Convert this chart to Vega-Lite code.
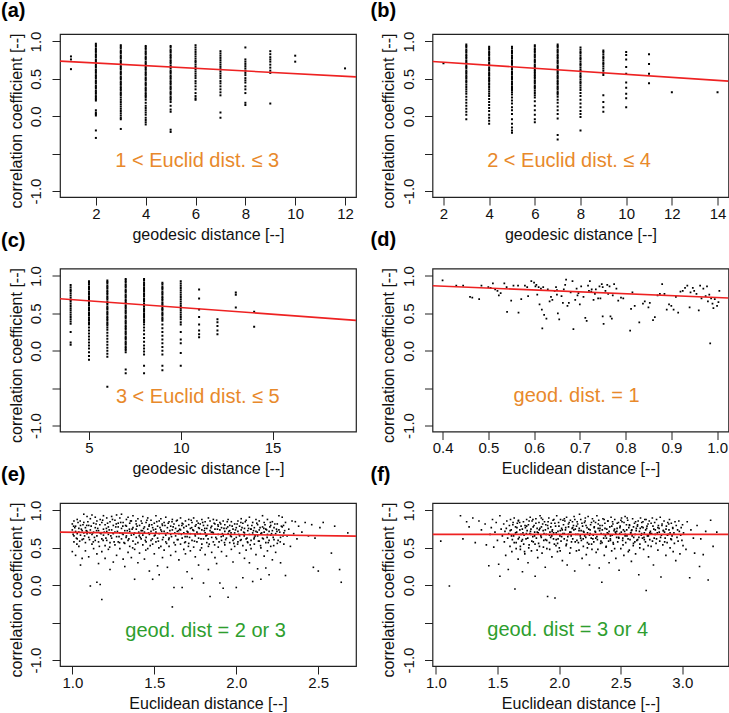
{
"$schema":"https://vega.github.io/schema/vega-lite/v6.json",
"background":"white",
"padding":{"left":0,"top":0,"right":0,"bottom":0},
"autosize":{"type":"pad"},
"config":{
"font":"Liberation Sans",
"view":{"stroke":"#222","strokeWidth":1.2},
"axis":{"grid":false,"domain":false,"tickColor":"#222","tickSize":8,"labelFontSize":15,"titleFontSize":16,"labelColor":"#111","titleColor":"#111","titleFontWeight":"normal","labelFont":"Liberation Sans","titleFont":"Liberation Sans"},
"axisX":{"labelBaseline":"alphabetic","labelPadding":13,"titleBaseline":"alphabetic","titleY":42,"labelFlush":false,"labelOverlap":false},
"axisY":{"labelAngle":-90,"labelAlign":"center","labelBaseline":"alphabetic","labelPadding":11.4,"titleX":-39,"titleY":86.5,"titleBaseline":"alphabetic","titleAlign":"center","labelFlush":false,"labelOverlap":false},
"title":{"anchor":"start","frame":"group","fontSize":20,"fontWeight":"bold","color":"#000","baseline":"alphabetic","font":"Liberation Sans"}
},
"datasets":{
"a":[{"x":1,"y":0.8},{"x":1,"y":0.76},{"x":1,"y":0.63},
{"x":2,"y":0.97},{"x":2,"y":0.95},{"x":2,"y":0.93},{"x":2,"y":0.9},{"x":2,"y":0.88},{"x":2,"y":0.86},{"x":2,"y":0.83},{"x":2,"y":0.81},{"x":2,"y":0.79},{"x":2,"y":0.76},{"x":2,"y":0.74},{"x":2,"y":0.72},{"x":2,"y":0.69},{"x":2,"y":0.67},{"x":2,"y":0.65},{"x":2,"y":0.62},{"x":2,"y":0.6},{"x":2,"y":0.58},{"x":2,"y":0.55},{"x":2,"y":0.53},{"x":2,"y":0.51},{"x":2,"y":0.48},{"x":2,"y":0.46},{"x":2,"y":0.44},{"x":2,"y":0.41},{"x":2,"y":0.39},{"x":2,"y":0.37},{"x":2,"y":0.34},{"x":2,"y":0.32},{"x":2,"y":0.3},{"x":2,"y":0.27},{"x":2,"y":0.25},{"x":2,"y":0.23},{"x":2,"y":0.21},{"x":2,"y":0.08},{"x":2,"y":0.05},{"x":2,"y":0.03},{"x":2,"y":0.01},{"x":2,"y":-0.19},{"x":2,"y":-0.29},
{"x":3,"y":0.95},{"x":3,"y":0.93},{"x":3,"y":0.91},{"x":3,"y":0.88},{"x":3,"y":0.86},{"x":3,"y":0.84},{"x":3,"y":0.81},{"x":3,"y":0.79},{"x":3,"y":0.77},{"x":3,"y":0.74},{"x":3,"y":0.72},{"x":3,"y":0.7},{"x":3,"y":0.67},{"x":3,"y":0.65},{"x":3,"y":0.63},{"x":3,"y":0.6},{"x":3,"y":0.58},{"x":3,"y":0.56},{"x":3,"y":0.53},{"x":3,"y":0.51},{"x":3,"y":0.49},{"x":3,"y":0.46},{"x":3,"y":0.44},{"x":3,"y":0.42},{"x":3,"y":0.39},{"x":3,"y":0.37},{"x":3,"y":0.35},{"x":3,"y":0.32},{"x":3,"y":0.3},{"x":3,"y":0.28},{"x":3,"y":0.25},{"x":3,"y":0.22},{"x":3,"y":0.19},{"x":3,"y":0.16},{"x":3,"y":0.13},{"x":3,"y":0.1},{"x":3,"y":0.07},{"x":3,"y":0.04},{"x":3,"y":0.01},{"x":3,"y":-0.02},{"x":3,"y":-0.04},{"x":3,"y":-0.17},
{"x":4,"y":0.94},{"x":4,"y":0.92},{"x":4,"y":0.9},{"x":4,"y":0.87},{"x":4,"y":0.85},{"x":4,"y":0.83},{"x":4,"y":0.8},{"x":4,"y":0.78},{"x":4,"y":0.76},{"x":4,"y":0.73},{"x":4,"y":0.71},{"x":4,"y":0.69},{"x":4,"y":0.66},{"x":4,"y":0.64},{"x":4,"y":0.62},{"x":4,"y":0.59},{"x":4,"y":0.57},{"x":4,"y":0.55},{"x":4,"y":0.52},{"x":4,"y":0.5},{"x":4,"y":0.48},{"x":4,"y":0.45},{"x":4,"y":0.43},{"x":4,"y":0.41},{"x":4,"y":0.38},{"x":4,"y":0.36},{"x":4,"y":0.34},{"x":4,"y":0.31},{"x":4,"y":0.29},{"x":4,"y":0.27},{"x":4,"y":0.25},{"x":4,"y":0.22},{"x":4,"y":0.18},{"x":4,"y":0.14},{"x":4,"y":0.11},{"x":4,"y":0.08},{"x":4,"y":0.05},{"x":4,"y":0.02},{"x":4,"y":-0.02},{"x":4,"y":-0.05},{"x":4,"y":-0.08},{"x":4,"y":-0.11},
{"x":5,"y":0.94},{"x":5,"y":0.92},{"x":5,"y":0.89},{"x":5,"y":0.87},{"x":5,"y":0.85},{"x":5,"y":0.82},{"x":5,"y":0.8},{"x":5,"y":0.78},{"x":5,"y":0.75},{"x":5,"y":0.73},{"x":5,"y":0.71},{"x":5,"y":0.68},{"x":5,"y":0.66},{"x":5,"y":0.64},{"x":5,"y":0.61},{"x":5,"y":0.59},{"x":5,"y":0.57},{"x":5,"y":0.54},{"x":5,"y":0.52},{"x":5,"y":0.5},{"x":5,"y":0.47},{"x":5,"y":0.45},{"x":5,"y":0.43},{"x":5,"y":0.4},{"x":5,"y":0.38},{"x":5,"y":0.36},{"x":5,"y":0.33},{"x":5,"y":0.31},{"x":5,"y":0.29},{"x":5,"y":0.26},{"x":5,"y":0.24},{"x":5,"y":0.22},{"x":5,"y":0.19},{"x":5,"y":0.14},{"x":5,"y":0.09},{"x":5,"y":0.06},{"x":5,"y":-0.18},{"x":5,"y":-0.21},
{"x":6,"y":0.95},{"x":6,"y":0.92},{"x":6,"y":0.89},{"x":6,"y":0.86},{"x":6,"y":0.83},{"x":6,"y":0.8},{"x":6,"y":0.77},{"x":6,"y":0.74},{"x":6,"y":0.72},{"x":6,"y":0.69},{"x":6,"y":0.66},{"x":6,"y":0.63},{"x":6,"y":0.6},{"x":6,"y":0.57},{"x":6,"y":0.54},{"x":6,"y":0.51},{"x":6,"y":0.47},{"x":6,"y":0.44},{"x":6,"y":0.4},{"x":6,"y":0.36},{"x":6,"y":0.31},{"x":6,"y":0.27},{"x":6,"y":0.24},{"x":6,"y":0.22},
{"x":7,"y":0.87},{"x":7,"y":0.84},{"x":7,"y":0.81},{"x":7,"y":0.78},{"x":7,"y":0.75},{"x":7,"y":0.72},{"x":7,"y":0.69},{"x":7,"y":0.66},{"x":7,"y":0.63},{"x":7,"y":0.6},{"x":7,"y":0.57},{"x":7,"y":0.54},{"x":7,"y":0.51},{"x":7,"y":0.47},{"x":7,"y":0.44},{"x":7,"y":0.4},{"x":7,"y":0.36},{"x":7,"y":0.32},{"x":7,"y":0.28},{"x":7,"y":0.05},{"x":7,"y":-0.02},
{"x":8,"y":0.92},{"x":8,"y":0.76},{"x":8,"y":0.73},{"x":8,"y":0.7},{"x":8,"y":0.67},{"x":8,"y":0.64},{"x":8,"y":0.61},{"x":8,"y":0.58},{"x":8,"y":0.55},{"x":8,"y":0.51},{"x":8,"y":0.48},{"x":8,"y":0.45},{"x":8,"y":0.4},{"x":8,"y":0.36},{"x":8,"y":0.31},{"x":8,"y":0.18},{"x":8,"y":0.15},
{"x":9,"y":0.87},{"x":9,"y":0.83},{"x":9,"y":0.79},{"x":9,"y":0.76},{"x":9,"y":0.73},{"x":9,"y":0.69},{"x":9,"y":0.65},{"x":9,"y":0.61},{"x":9,"y":0.58},{"x":9,"y":0.17},
{"x":10,"y":0.81},{"x":10,"y":0.73},{"x":12,"y":0.64}],
"b":[{"x":2,"y":0.71},
{"x":3,"y":0.96},{"x":3,"y":0.94},{"x":3,"y":0.92},{"x":3,"y":0.89},{"x":3,"y":0.87},{"x":3,"y":0.85},{"x":3,"y":0.82},{"x":3,"y":0.8},{"x":3,"y":0.78},{"x":3,"y":0.75},{"x":3,"y":0.73},{"x":3,"y":0.71},{"x":3,"y":0.68},{"x":3,"y":0.66},{"x":3,"y":0.64},{"x":3,"y":0.61},{"x":3,"y":0.59},{"x":3,"y":0.57},{"x":3,"y":0.54},{"x":3,"y":0.52},{"x":3,"y":0.5},{"x":3,"y":0.47},{"x":3,"y":0.45},{"x":3,"y":0.42},{"x":3,"y":0.39},{"x":3,"y":0.36},{"x":3,"y":0.33},{"x":3,"y":0.3},{"x":3,"y":0.26},{"x":3,"y":0.22},{"x":3,"y":0.18},{"x":3,"y":0.14},{"x":3,"y":0.1},{"x":3,"y":0.06},{"x":3,"y":0.02},{"x":3,"y":-0.04},
{"x":4,"y":0.93},{"x":4,"y":0.91},{"x":4,"y":0.89},{"x":4,"y":0.86},{"x":4,"y":0.84},{"x":4,"y":0.82},{"x":4,"y":0.79},{"x":4,"y":0.77},{"x":4,"y":0.75},{"x":4,"y":0.72},{"x":4,"y":0.7},{"x":4,"y":0.68},{"x":4,"y":0.65},{"x":4,"y":0.63},{"x":4,"y":0.61},{"x":4,"y":0.58},{"x":4,"y":0.56},{"x":4,"y":0.54},{"x":4,"y":0.51},{"x":4,"y":0.49},{"x":4,"y":0.47},{"x":4,"y":0.44},{"x":4,"y":0.42},{"x":4,"y":0.39},{"x":4,"y":0.36},{"x":4,"y":0.33},{"x":4,"y":0.3},{"x":4,"y":0.27},{"x":4,"y":0.23},{"x":4,"y":0.19},{"x":4,"y":0.15},{"x":4,"y":0.11},{"x":4,"y":0.07},{"x":4,"y":0.02},{"x":4,"y":-0.02},{"x":4,"y":-0.06},{"x":4,"y":-0.1},
{"x":5,"y":0.93},{"x":5,"y":0.91},{"x":5,"y":0.88},{"x":5,"y":0.86},{"x":5,"y":0.84},{"x":5,"y":0.81},{"x":5,"y":0.79},{"x":5,"y":0.77},{"x":5,"y":0.74},{"x":5,"y":0.72},{"x":5,"y":0.7},{"x":5,"y":0.67},{"x":5,"y":0.65},{"x":5,"y":0.63},{"x":5,"y":0.6},{"x":5,"y":0.58},{"x":5,"y":0.56},{"x":5,"y":0.53},{"x":5,"y":0.51},{"x":5,"y":0.49},{"x":5,"y":0.46},{"x":5,"y":0.44},{"x":5,"y":0.42},{"x":5,"y":0.39},{"x":5,"y":0.37},{"x":5,"y":0.35},{"x":5,"y":0.32},{"x":5,"y":0.29},{"x":5,"y":0.25},{"x":5,"y":0.21},{"x":5,"y":0.17},{"x":5,"y":0.12},{"x":5,"y":0.08},{"x":5,"y":0.03},{"x":5,"y":-0.04},{"x":5,"y":-0.1},{"x":5,"y":-0.15},{"x":5,"y":-0.19},{"x":5,"y":-0.22},
{"x":6,"y":0.95},{"x":6,"y":0.93},{"x":6,"y":0.9},{"x":6,"y":0.88},{"x":6,"y":0.86},{"x":6,"y":0.83},{"x":6,"y":0.81},{"x":6,"y":0.79},{"x":6,"y":0.76},{"x":6,"y":0.74},{"x":6,"y":0.72},{"x":6,"y":0.69},{"x":6,"y":0.67},{"x":6,"y":0.65},{"x":6,"y":0.62},{"x":6,"y":0.6},{"x":6,"y":0.58},{"x":6,"y":0.55},{"x":6,"y":0.53},{"x":6,"y":0.51},{"x":6,"y":0.48},{"x":6,"y":0.46},{"x":6,"y":0.44},{"x":6,"y":0.41},{"x":6,"y":0.39},{"x":6,"y":0.37},{"x":6,"y":0.34},{"x":6,"y":0.31},{"x":6,"y":0.28},{"x":6,"y":0.25},{"x":6,"y":0.2},{"x":6,"y":0.14},{"x":6,"y":0.08},{"x":6,"y":0.02},{"x":6,"y":-0.04},{"x":6,"y":-0.08},
{"x":7,"y":0.96},{"x":7,"y":0.94},{"x":7,"y":0.92},{"x":7,"y":0.89},{"x":7,"y":0.87},{"x":7,"y":0.85},{"x":7,"y":0.82},{"x":7,"y":0.8},{"x":7,"y":0.78},{"x":7,"y":0.75},{"x":7,"y":0.73},{"x":7,"y":0.71},{"x":7,"y":0.68},{"x":7,"y":0.66},{"x":7,"y":0.64},{"x":7,"y":0.61},{"x":7,"y":0.59},{"x":7,"y":0.57},{"x":7,"y":0.54},{"x":7,"y":0.52},{"x":7,"y":0.5},{"x":7,"y":0.47},{"x":7,"y":0.45},{"x":7,"y":0.43},{"x":7,"y":0.4},{"x":7,"y":0.38},{"x":7,"y":0.36},{"x":7,"y":0.33},{"x":7,"y":0.31},{"x":7,"y":0.29},{"x":7,"y":0.26},{"x":7,"y":0.22},{"x":7,"y":0.18},{"x":7,"y":0.13},{"x":7,"y":0.08},{"x":7,"y":0.03},{"x":7,"y":-0.03},{"x":7,"y":-0.25},{"x":7,"y":-0.31},
{"x":8,"y":0.92},{"x":8,"y":0.89},{"x":8,"y":0.86},{"x":8,"y":0.84},{"x":8,"y":0.81},{"x":8,"y":0.78},{"x":8,"y":0.76},{"x":8,"y":0.73},{"x":8,"y":0.7},{"x":8,"y":0.68},{"x":8,"y":0.65},{"x":8,"y":0.62},{"x":8,"y":0.6},{"x":8,"y":0.57},{"x":8,"y":0.54},{"x":8,"y":0.52},{"x":8,"y":0.49},{"x":8,"y":0.46},{"x":8,"y":0.44},{"x":8,"y":0.41},{"x":8,"y":0.38},{"x":8,"y":0.35},{"x":8,"y":0.31},{"x":8,"y":0.27},{"x":8,"y":0.22},{"x":8,"y":0.17},{"x":8,"y":0.12},{"x":8,"y":0.07},{"x":8,"y":0.03},{"x":8,"y":-0.01},{"x":8,"y":-0.19},
{"x":9,"y":0.88},{"x":9,"y":0.86},{"x":9,"y":0.83},{"x":9,"y":0.8},{"x":9,"y":0.78},{"x":9,"y":0.75},{"x":9,"y":0.72},{"x":9,"y":0.7},{"x":9,"y":0.67},{"x":9,"y":0.64},{"x":9,"y":0.61},{"x":9,"y":0.58},{"x":9,"y":0.55},{"x":9,"y":0.28},{"x":9,"y":0.19},{"x":9,"y":0.12},{"x":9,"y":0.06},
{"x":10,"y":0.86},{"x":10,"y":0.82},{"x":10,"y":0.76},{"x":10,"y":0.66},{"x":10,"y":0.57},{"x":10,"y":0.45},{"x":10,"y":0.38},{"x":10,"y":0.3},{"x":10,"y":0.24},{"x":10,"y":0.12},
{"x":11,"y":0.83},{"x":11,"y":0.7},{"x":11,"y":0.57},{"x":11,"y":0.44},{"x":12,"y":0.32},{"x":14,"y":0.32}],
"c":[{"x":4,"y":0.88},{"x":4,"y":0.85},{"x":4,"y":0.82},{"x":4,"y":0.8},{"x":4,"y":0.77},{"x":4,"y":0.74},{"x":4,"y":0.71},{"x":4,"y":0.68},{"x":4,"y":0.66},{"x":4,"y":0.63},{"x":4,"y":0.6},{"x":4,"y":0.57},{"x":4,"y":0.54},{"x":4,"y":0.51},{"x":4,"y":0.48},{"x":4,"y":0.45},{"x":4,"y":0.42},{"x":4,"y":0.39},{"x":4,"y":0.36},{"x":4,"y":0.25},{"x":4,"y":0.11},{"x":4,"y":0.08},
{"x":5,"y":0.93},{"x":5,"y":0.91},{"x":5,"y":0.89},{"x":5,"y":0.86},{"x":5,"y":0.84},{"x":5,"y":0.82},{"x":5,"y":0.79},{"x":5,"y":0.77},{"x":5,"y":0.75},{"x":5,"y":0.72},{"x":5,"y":0.7},{"x":5,"y":0.68},{"x":5,"y":0.65},{"x":5,"y":0.63},{"x":5,"y":0.61},{"x":5,"y":0.58},{"x":5,"y":0.56},{"x":5,"y":0.54},{"x":5,"y":0.51},{"x":5,"y":0.49},{"x":5,"y":0.47},{"x":5,"y":0.44},{"x":5,"y":0.42},{"x":5,"y":0.4},{"x":5,"y":0.37},{"x":5,"y":0.35},{"x":5,"y":0.31},{"x":5,"y":0.27},{"x":5,"y":0.23},{"x":5,"y":0.19},{"x":5,"y":0.15},{"x":5,"y":0.11},{"x":5,"y":0.07},{"x":5,"y":0.03},{"x":5,"y":-0.02},{"x":5,"y":-0.07},{"x":5,"y":-0.12},
{"x":6,"y":0.94},{"x":6,"y":0.92},{"x":6,"y":0.9},{"x":6,"y":0.87},{"x":6,"y":0.85},{"x":6,"y":0.83},{"x":6,"y":0.8},{"x":6,"y":0.78},{"x":6,"y":0.76},{"x":6,"y":0.73},{"x":6,"y":0.71},{"x":6,"y":0.69},{"x":6,"y":0.66},{"x":6,"y":0.64},{"x":6,"y":0.62},{"x":6,"y":0.59},{"x":6,"y":0.57},{"x":6,"y":0.55},{"x":6,"y":0.52},{"x":6,"y":0.5},{"x":6,"y":0.48},{"x":6,"y":0.45},{"x":6,"y":0.43},{"x":6,"y":0.41},{"x":6,"y":0.38},{"x":6,"y":0.36},{"x":6,"y":0.34},{"x":6,"y":0.31},{"x":6,"y":0.28},{"x":6,"y":0.24},{"x":6,"y":0.2},{"x":6,"y":0.16},{"x":6,"y":0.12},{"x":6,"y":0.08},{"x":6,"y":0.04},{"x":6,"y":0},{"x":6,"y":-0.04},{"x":6,"y":-0.08},{"x":6,"y":-0.48},
{"x":7,"y":0.96},{"x":7,"y":0.94},{"x":7,"y":0.92},{"x":7,"y":0.89},{"x":7,"y":0.87},{"x":7,"y":0.85},{"x":7,"y":0.82},{"x":7,"y":0.8},{"x":7,"y":0.78},{"x":7,"y":0.75},{"x":7,"y":0.73},{"x":7,"y":0.71},{"x":7,"y":0.68},{"x":7,"y":0.66},{"x":7,"y":0.64},{"x":7,"y":0.61},{"x":7,"y":0.59},{"x":7,"y":0.57},{"x":7,"y":0.54},{"x":7,"y":0.52},{"x":7,"y":0.5},{"x":7,"y":0.47},{"x":7,"y":0.45},{"x":7,"y":0.43},{"x":7,"y":0.4},{"x":7,"y":0.38},{"x":7,"y":0.36},{"x":7,"y":0.33},{"x":7,"y":0.31},{"x":7,"y":0.29},{"x":7,"y":0.26},{"x":7,"y":0.24},{"x":7,"y":0.22},{"x":7,"y":0.19},{"x":7,"y":0.17},{"x":7,"y":0.15},{"x":7,"y":0.12},{"x":7,"y":0.1},{"x":7,"y":0.08},{"x":7,"y":0.05},{"x":7,"y":0.03},{"x":7,"y":0.01},{"x":7,"y":-0.02},{"x":7,"y":-0.25},{"x":7,"y":-0.3},
{"x":8,"y":0.96},{"x":8,"y":0.94},{"x":8,"y":0.91},{"x":8,"y":0.89},{"x":8,"y":0.87},{"x":8,"y":0.84},{"x":8,"y":0.82},{"x":8,"y":0.8},{"x":8,"y":0.77},{"x":8,"y":0.75},{"x":8,"y":0.73},{"x":8,"y":0.7},{"x":8,"y":0.68},{"x":8,"y":0.66},{"x":8,"y":0.63},{"x":8,"y":0.61},{"x":8,"y":0.59},{"x":8,"y":0.56},{"x":8,"y":0.54},{"x":8,"y":0.52},{"x":8,"y":0.49},{"x":8,"y":0.47},{"x":8,"y":0.45},{"x":8,"y":0.42},{"x":8,"y":0.4},{"x":8,"y":0.38},{"x":8,"y":0.35},{"x":8,"y":0.31},{"x":8,"y":0.27},{"x":8,"y":0.22},{"x":8,"y":0.17},{"x":8,"y":0.12},{"x":8,"y":0.07},{"x":8,"y":0.03},{"x":8,"y":-0.01},{"x":8,"y":-0.05},{"x":8,"y":-0.2},{"x":8,"y":-0.3},
{"x":9,"y":0.91},{"x":9,"y":0.89},{"x":9,"y":0.86},{"x":9,"y":0.84},{"x":9,"y":0.82},{"x":9,"y":0.79},{"x":9,"y":0.77},{"x":9,"y":0.75},{"x":9,"y":0.72},{"x":9,"y":0.7},{"x":9,"y":0.68},{"x":9,"y":0.65},{"x":9,"y":0.63},{"x":9,"y":0.61},{"x":9,"y":0.58},{"x":9,"y":0.56},{"x":9,"y":0.54},{"x":9,"y":0.51},{"x":9,"y":0.49},{"x":9,"y":0.47},{"x":9,"y":0.44},{"x":9,"y":0.42},{"x":9,"y":0.4},{"x":9,"y":0.35},{"x":9,"y":0.3},{"x":9,"y":0.25},{"x":9,"y":0.2},{"x":9,"y":0.15},{"x":9,"y":0.1},{"x":9,"y":0.05},{"x":9,"y":0},{"x":9,"y":-0.05},{"x":9,"y":-0.2},{"x":9,"y":-0.26},
{"x":10,"y":0.93},{"x":10,"y":0.9},{"x":10,"y":0.87},{"x":10,"y":0.84},{"x":10,"y":0.81},{"x":10,"y":0.78},{"x":10,"y":0.75},{"x":10,"y":0.72},{"x":10,"y":0.69},{"x":10,"y":0.66},{"x":10,"y":0.63},{"x":10,"y":0.6},{"x":10,"y":0.57},{"x":10,"y":0.54},{"x":10,"y":0.51},{"x":10,"y":0.48},{"x":10,"y":0.45},{"x":10,"y":0.42},{"x":10,"y":0.38},{"x":10,"y":0.35},{"x":10,"y":0.25},{"x":10,"y":0.15},{"x":10,"y":0.1},{"x":10,"y":-0.03},{"x":10,"y":-0.2},
{"x":11,"y":0.82},{"x":11,"y":0.7},{"x":11,"y":0.55},{"x":11,"y":0.45},{"x":11,"y":0.35},{"x":11,"y":0.27},{"x":11,"y":0.22},{"x":11,"y":0.18},
{"x":12,"y":0.42},{"x":12,"y":0.38},{"x":12,"y":0.33},{"x":12,"y":0.27},{"x":12,"y":0.22},{"x":13,"y":0.78},{"x":13,"y":0.75},{"x":13,"y":0.58},{"x":14,"y":0.52},{"x":14,"y":0.32}],
"d":[{"x":0.4,"y":0.94},{"x":0.43,"y":0.87},{"x":0.445,"y":0.87},{"x":0.46,"y":0.72},{"x":0.465,"y":0.71},{"x":0.48,"y":0.69},{"x":0.485,"y":0.87},{"x":0.5,"y":0.85},{"x":0.505,"y":0.84},{"x":0.51,"y":0.9},{"x":0.515,"y":0.82},{"x":0.52,"y":0.8},{"x":0.523,"y":0.74},{"x":0.527,"y":0.77},{"x":0.535,"y":0.9},{"x":0.54,"y":0.85},{"x":0.541,"y":0.52},{"x":0.55,"y":0.67},{"x":0.555,"y":0.87},{"x":0.565,"y":0.87},{"x":0.566,"y":0.51},{"x":0.572,"y":0.69},{"x":0.58,"y":0.87},{"x":0.585,"y":0.85},{"x":0.587,"y":0.73},{"x":0.594,"y":0.93},{"x":0.6,"y":0.91},{"x":0.603,"y":0.86},{"x":0.605,"y":0.88},{"x":0.607,"y":0.75},{"x":0.61,"y":0.85},{"x":0.612,"y":0.62},{"x":0.615,"y":0.83},{"x":0.617,"y":0.55},{"x":0.618,"y":0.3},{"x":0.622,"y":0.48},{"x":0.627,"y":0.43},{"x":0.63,"y":0.82},{"x":0.634,"y":0.66},{"x":0.637,"y":0.72},{"x":0.64,"y":0.68},{"x":0.645,"y":0.8},{"x":0.648,"y":0.85},{"x":0.65,"y":0.75},{"x":0.652,"y":0.5},{"x":0.655,"y":0.42},{"x":0.66,"y":0.73},{"x":0.663,"y":0.64},{"x":0.665,"y":0.82},{"x":0.668,"y":0.88},{"x":0.67,"y":0.95},{"x":0.673,"y":0.6},{"x":0.676,"y":0.64},{"x":0.68,"y":0.78},{"x":0.684,"y":0.93},{"x":0.686,"y":0.29},{"x":0.69,"y":0.68},{"x":0.693,"y":0.83},{"x":0.697,"y":0.77},{"x":0.7,"y":0.62},{"x":0.703,"y":0.86},{"x":0.708,"y":0.72},{"x":0.712,"y":0.44},{"x":0.715,"y":0.4},{"x":0.718,"y":0.87},{"x":0.72,"y":0.8},{"x":0.722,"y":0.93},{"x":0.726,"y":0.82},{"x":0.73,"y":0.68},{"x":0.733,"y":0.76},{"x":0.735,"y":0.82},{"x":0.74,"y":0.7},{"x":0.743,"y":0.86},{"x":0.748,"y":0.89},{"x":0.75,"y":0.46},{"x":0.752,"y":0.36},{"x":0.756,"y":0.8},{"x":0.76,"y":0.88},{"x":0.762,"y":0.76},{"x":0.765,"y":0.86},{"x":0.767,"y":0.46},{"x":0.77,"y":0.43},{"x":0.772,"y":0.74},{"x":0.775,"y":0.89},{"x":0.78,"y":0.83},{"x":0.784,"y":0.67},{"x":0.79,"y":0.71},{"x":0.795,"y":0.7},{"x":0.81,"y":0.27},{"x":0.812,"y":0.56},{"x":0.815,"y":0.78},{"x":0.82,"y":0.6},{"x":0.83,"y":0.38},{"x":0.838,"y":0.63},{"x":0.842,"y":0.66},{"x":0.85,"y":0.58},{"x":0.853,"y":0.64},{"x":0.86,"y":0.41},{"x":0.864,"y":0.45},{"x":0.87,"y":0.74},{"x":0.875,"y":0.76},{"x":0.88,"y":0.89},{"x":0.885,"y":0.76},{"x":0.89,"y":0.55},{"x":0.895,"y":0.62},{"x":0.9,"y":0.6},{"x":0.905,"y":0.55},{"x":0.91,"y":0.72},{"x":0.915,"y":0.51},{"x":0.92,"y":0.79},{"x":0.925,"y":0.8},{"x":0.93,"y":0.84},{"x":0.935,"y":0.87},{"x":0.94,"y":0.58},{"x":0.942,"y":0.78},{"x":0.947,"y":0.84},{"x":0.95,"y":0.8},{"x":0.955,"y":0.76},{"x":0.96,"y":0.54},{"x":0.963,"y":0.87},{"x":0.966,"y":0.7},{"x":0.97,"y":0.83},{"x":0.975,"y":0.73},{"x":0.978,"y":0.86},{"x":0.98,"y":0.66},{"x":0.983,"y":0.75},{"x":0.985,"y":0.1},{"x":0.987,"y":0.7},{"x":0.99,"y":0.63},{"x":0.992,"y":0.57},{"x":0.995,"y":0.69},{"x":1.0,"y":0.6},{"x":1.003,"y":0.65},{"x":1.005,"y":0.8},{"x":0.65,"y":0.81},{"x":0.695,"y":0.74},{"x":0.725,"y":0.79},{"x":0.745,"y":0.7},{"x":0.62,"y":0.85},{"x":0.75,"y":0.85}],
"e":[{"x":1.0,"y":0.82},{"x":1.0,"y":0.74},{"x":1.01,"y":0.86},{"x":1.01,"y":0.66},{"x":1.01,"y":0.58},{"x":1.0,"y":0.45},{"x":1.02,"y":0.72},{"x":1.02,"y":0.79},{"x":1.02,"y":0.4},{"x":1.03,"y":0.69},{"x":1.03,"y":0.88},{"x":1.03,"y":0.62},{"x":1.04,"y":0.76},{"x":1.04,"y":0.71},{"x":1.04,"y":0.52},{"x":1.05,"y":0.27},{"x":1.05,"y":0.8},{"x":1.05,"y":0.67},{"x":1.06,"y":0.73},{"x":1.06,"y":0.36},{"x":1.06,"y":0.61},{"x":1.07,"y":0.84},{"x":1.07,"y":0.95},{"x":1.07,"y":0.7},{"x":1.08,"y":0.57},{"x":1.08,"y":0.77},{"x":1.08,"y":0.46},{"x":1.09,"y":0.92},{"x":1.09,"y":0.69},{"x":1.09,"y":0.72},{"x":1.1,"y":0.64},{"x":1.1,"y":0.38},{"x":1.1,"y":0.8},{"x":1.11,"y":-0.01},{"x":1.11,"y":0.74},{"x":1.11,"y":0.89},{"x":1.12,"y":0.55},{"x":1.12,"y":0.68},{"x":1.12,"y":0.94},
{"x":1.13,"y":0.71},{"x":1.13,"y":0.49},{"x":1.13,"y":0.83},{"x":1.14,"y":0.6},{"x":1.14,"y":0.77},{"x":1.14,"y":0.91},{"x":1.15,"y":0.04},{"x":1.15,"y":0.66},{"x":1.15,"y":0.42},{"x":1.15,"y":0.86},{"x":1.16,"y":0.29},{"x":1.16,"y":0.73},{"x":1.16,"y":0.58},{"x":1.17,"y":0.01},{"x":1.17,"y":0.88},{"x":1.17,"y":0.7},{"x":1.18,"y":-0.19},{"x":1.18,"y":0.62},{"x":1.18,"y":0.84},{"x":1.18,"y":0.45},{"x":1.19,"y":0.93},{"x":1.19,"y":0.75},{"x":1.19,"y":0.67},{"x":1.2,"y":0.53},{"x":1.2,"y":0.81},{"x":1.2,"y":0.36},{"x":1.21,"y":0.72},{"x":1.21,"y":0.9},{"x":1.21,"y":0.6},{"x":1.22,"y":0.48},{"x":1.22,"y":0.78},{"x":1.22,"y":0.68},{"x":1.23,"y":0.85},{"x":1.23,"y":0.57},{"x":1.23,"y":0.21},{"x":1.24,"y":0.74},{"x":1.24,"y":0.92},{"x":1.24,"y":0.63},{"x":1.25,"y":0.31},{"x":1.25,"y":0.8},{"x":1.25,"y":0.69},
{"x":1.26,"y":0.87},{"x":1.26,"y":0.54},{"x":1.26,"y":0.71},{"x":1.27,"y":0.65},{"x":1.27,"y":0.94},{"x":1.27,"y":0.4},{"x":1.28,"y":0.78},{"x":1.28,"y":0.58},{"x":1.28,"y":0.83},{"x":1.29,"y":0.7},{"x":1.29,"y":0.49},{"x":1.29,"y":0.9},{"x":1.3,"y":0.62},{"x":1.3,"y":0.76},{"x":1.3,"y":0.95},{"x":1.31,"y":0.35},{"x":1.31,"y":0.68},{"x":1.31,"y":0.84},{"x":1.32,"y":0.73},{"x":1.32,"y":0.56},{"x":1.32,"y":0.25},{"x":1.33,"y":0.88},{"x":1.33,"y":0.66},{"x":1.33,"y":0.79},{"x":1.34,"y":0.6},{"x":1.34,"y":0.91},{"x":1.34,"y":0.44},{"x":1.35,"y":0.72},{"x":1.35,"y":0.83},{"x":1.35,"y":0.52},{"x":1.36,"y":0.67},{"x":1.36,"y":0.37},{"x":1.36,"y":0.86},{"x":1.37,"y":0.77},{"x":1.37,"y":0.59},{"x":1.37,"y":0.93},{"x":1.38,"y":0.7},{"x":1.38,"y":0.48},{"x":1.38,"y":0.08},{"x":1.39,"y":0.82},{"x":1.39,"y":0.64},{"x":1.39,"y":0.75},{"x":1.4,"y":0.57},{"x":1.4,"y":0.89},{"x":1.4,"y":0.3},
{"x":1.41,"y":0.69},{"x":1.41,"y":0.8},{"x":1.41,"y":0.43},{"x":1.42,"y":0.62},{"x":1.42,"y":0.86},{"x":1.42,"y":0.73},{"x":1.43,"y":0.54},{"x":1.43,"y":0.92},{"x":1.43,"y":0.67},{"x":1.44,"y":0.78},{"x":1.44,"y":0.35},{"x":1.44,"y":0.71},{"x":1.45,"y":0.84},{"x":1.45,"y":0.58},{"x":1.45,"y":0.64},{"x":1.46,"y":0.75},{"x":1.46,"y":0.49},{"x":1.46,"y":0.9},{"x":1.47,"y":0.68},{"x":1.47,"y":0.81},{"x":1.47,"y":0.19},{"x":1.48,"y":0.6},{"x":1.48,"y":0.87},{"x":1.48,"y":0.72},{"x":1.49,"y":0.08},{"x":1.49,"y":0.77},{"x":1.49,"y":0.55},{"x":1.5,"y":0.66},{"x":1.5,"y":0.83},{"x":1.5,"y":0.42},{"x":1.51,"y":0.93},{"x":1.51,"y":0.71},{"x":1.51,"y":0.58},{"x":1.52,"y":0.26},{"x":1.52,"y":0.79},{"x":1.52,"y":0.63},{"x":1.53,"y":0.86},{"x":1.53,"y":0.69},{"x":1.53,"y":0.14},{"x":1.54,"y":0.74},{"x":1.54,"y":0.52},{"x":1.54,"y":0.89},{"x":1.55,"y":0.61},{"x":1.55,"y":0.8},{"x":1.55,"y":0.37},
{"x":1.56,"y":0.72},{"x":1.56,"y":0.84},{"x":1.56,"y":0.47},{"x":1.57,"y":0.67},{"x":1.57,"y":0.91},{"x":1.57,"y":0.58},{"x":1.58,"y":0.77},{"x":1.58,"y":0.24},{"x":1.58,"y":0.7},{"x":1.59,"y":0.85},{"x":1.59,"y":0.63},{"x":1.59,"y":0.52},{"x":1.6,"y":0.79},{"x":1.6,"y":0.4},{"x":1.6,"y":0.68},{"x":1.61,"y":-0.29},{"x":1.61,"y":0.74},{"x":1.61,"y":0.88},{"x":1.62,"y":0.57},{"x":1.62,"y":-0.03},{"x":1.62,"y":0.82},{"x":1.63,"y":0.66},{"x":1.63,"y":0.76},{"x":1.63,"y":0.45},{"x":1.64,"y":0.87},{"x":1.64,"y":0.61},{"x":1.64,"y":0.72},{"x":1.65,"y":0.34},{"x":1.65,"y":0.8},{"x":1.65,"y":0.69},{"x":1.66,"y":0.55},{"x":1.66,"y":0.9},{"x":1.66,"y":0.74},{"x":1.67,"y":0.63},{"x":1.67,"y":-0.03},{"x":1.67,"y":0.83},{"x":1.68,"y":0.48},{"x":1.68,"y":0.77},{"x":1.68,"y":0.7},{"x":1.69,"y":0.58},{"x":1.69,"y":0.86},{"x":1.69,"y":0.42},{"x":1.7,"y":0.72},{"x":1.7,"y":0.65},{"x":1.7,"y":0.18},
{"x":1.71,"y":0.81},{"x":1.71,"y":0.56},{"x":1.71,"y":0.88},{"x":1.72,"y":0.69},{"x":1.72,"y":0.46},{"x":1.72,"y":0.76},{"x":1.73,"y":0.6},{"x":1.73,"y":0.84},{"x":1.73,"y":0.09},{"x":1.74,"y":0.73},{"x":1.74,"y":0.51},{"x":1.74,"y":0.9},{"x":1.75,"y":0.66},{"x":1.75,"y":0.79},{"x":1.75,"y":0.38},{"x":1.76,"y":0.86},{"x":1.76,"y":0.58},{"x":1.76,"y":0.71},{"x":1.77,"y":0.27},{"x":1.77,"y":0.77},{"x":1.77,"y":0.63},{"x":1.78,"y":0.82},{"x":1.78,"y":0.69},{"x":1.78,"y":0.47},{"x":1.79,"y":0.88},{"x":1.79,"y":0.55},{"x":1.79,"y":0.74},{"x":1.8,"y":0.62},{"x":1.8,"y":0.03},{"x":1.8,"y":0.8},{"x":1.81,"y":0.7},{"x":1.81,"y":0.41},{"x":1.81,"y":0.85},{"x":1.82,"y":0.57},{"x":1.82,"y":0.76},{"x":1.82,"y":0.67},{"x":1.83,"y":0.9},{"x":1.83,"y":0.52},{"x":1.83,"y":0.21},{"x":1.84,"y":0.73},{"x":1.84,"y":-0.15},{"x":1.84,"y":0.86},{"x":1.85,"y":0.64},{"x":1.85,"y":0.79},{"x":1.85,"y":0.44},
{"x":1.86,"y":0.88},{"x":1.86,"y":0.7},{"x":1.86,"y":0.58},{"x":1.87,"y":0.82},{"x":1.87,"y":0.37},{"x":1.87,"y":0.75},{"x":1.88,"y":0.62},{"x":1.88,"y":0.87},{"x":1.88,"y":0.29},{"x":1.89,"y":0.68},{"x":1.89,"y":0.79},{"x":1.89,"y":0.51},{"x":1.9,"y":0.74},{"x":1.9,"y":0.84},{"x":1.9,"y":0.03},{"x":1.91,"y":0.6},{"x":1.91,"y":0.77},{"x":1.91,"y":0.45},{"x":1.92,"y":0.86},{"x":1.92,"y":0.66},{"x":1.92,"y":-0.04},{"x":1.93,"y":0.72},{"x":1.93,"y":0.54},{"x":1.93,"y":0.81},{"x":1.94,"y":0.39},{"x":1.94,"y":0.76},{"x":1.94,"y":0.63},{"x":1.95,"y":0.88},{"x":1.95,"y":0.69},{"x":1.95,"y":-0.16},{"x":1.96,"y":0.57},{"x":1.96,"y":0.8},{"x":1.96,"y":0.73},{"x":1.97,"y":0.48},{"x":1.97,"y":0.85},{"x":1.97,"y":0.65},{"x":1.98,"y":0.75},{"x":1.98,"y":0.31},{"x":1.98,"y":0.6},{"x":1.99,"y":0.82},{"x":1.99,"y":0.7},{"x":1.99,"y":0.52},{"x":2.0,"y":0.77},{"x":2.0,"y":0.64},{"x":2.0,"y":-0.03},
{"x":2.01,"y":0.86},{"x":2.01,"y":0.58},{"x":2.01,"y":0.72},{"x":2.02,"y":0.43},{"x":2.02,"y":0.79},{"x":2.02,"y":0.66},{"x":2.03,"y":0.89},{"x":2.03,"y":0.61},{"x":2.03,"y":0.74},{"x":2.04,"y":0.53},{"x":2.04,"y":0.83},{"x":2.04,"y":0.1},{"x":2.05,"y":0.7},{"x":2.05,"y":0.76},{"x":2.05,"y":0.36},{"x":2.06,"y":0.62},{"x":2.06,"y":0.87},{"x":2.06,"y":0.47},{"x":2.07,"y":0.73},{"x":2.07,"y":0.57},{"x":2.07,"y":0.8},{"x":2.08,"y":0.68},{"x":2.08,"y":0.3},{"x":2.08,"y":0.91},{"x":2.09,"y":0.75},{"x":2.09,"y":0.6},{"x":2.09,"y":0.49},{"x":2.1,"y":0.84},{"x":2.1,"y":0.7},{"x":2.1,"y":0.05},{"x":2.11,"y":0.77},{"x":2.11,"y":0.64},{"x":2.11,"y":0.55},{"x":2.12,"y":0.88},{"x":2.12,"y":0.72},{"x":2.12,"y":0.41},{"x":2.13,"y":0.66},{"x":2.13,"y":0.81},{"x":2.13,"y":0.22},{"x":2.14,"y":0.74},{"x":2.14,"y":0.59},{"x":2.14,"y":0.86},{"x":2.15,"y":0.69},{"x":2.15,"y":0.5},{"x":2.15,"y":0.08},
{"x":2.16,"y":0.78},{"x":2.16,"y":0.93},{"x":2.16,"y":0.63},{"x":2.17,"y":0.71},{"x":2.17,"y":0.39},{"x":2.17,"y":0.84},{"x":2.18,"y":0.57},{"x":2.18,"y":0.75},{"x":2.18,"y":0.23},{"x":2.19,"y":0.68},{"x":2.19,"y":0.88},{"x":2.19,"y":0.46},{"x":2.2,"y":0.72},{"x":2.2,"y":0.6},{"x":2.2,"y":0.14},{"x":2.21,"y":0.8},{"x":2.21,"y":0.52},{"x":2.21,"y":0.67},{"x":2.22,"y":0.85},{"x":2.22,"y":0.34},{"x":2.22,"y":0.73},{"x":2.23,"y":0.61},{"x":2.23,"y":0.77},{"x":2.24,"y":0.44},{"x":2.24,"y":0.69},{"x":2.25,"y":0.82},{"x":2.25,"y":0.56},{"x":2.26,"y":0.74},{"x":2.26,"y":0.93},{"x":2.27,"y":0.64},{"x":2.27,"y":0.3},{"x":2.28,"y":0.78},{"x":2.28,"y":0.91},{"x":2.29,"y":0.55},{"x":2.29,"y":0.7},{"x":2.3,"y":0.13},{"x":2.3,"y":0.84},
{"x":2.31,"y":0.66},{"x":2.32,"y":0.75},{"x":2.33,"y":0.52},{"x":2.34,"y":0.86},{"x":2.35,"y":0.69},{"x":2.36,"y":0.85},{"x":2.37,"y":0.62},{"x":2.38,"y":0.79},{"x":2.4,"y":0.71},{"x":2.42,"y":0.84},{"x":2.44,"y":0.66},{"x":2.46,"y":0.81},{"x":2.47,"y":0.24},{"x":2.48,"y":0.63},{"x":2.5,"y":0.19},{"x":2.51,"y":0.77},{"x":2.53,"y":0.84},{"x":2.58,"y":0.43},{"x":2.6,"y":0.79},{"x":2.63,"y":0.21},{"x":2.64,"y":0.04},{"x":2.68,"y":0.7},
{"x":1.005,"y":0.68},{"x":1.015,"y":0.77},{"x":1.025,"y":0.63},{"x":1.035,"y":0.84},{"x":1.045,"y":0.59},{"x":1.055,"y":0.75},{"x":1.065,"y":0.81},{"x":1.075,"y":0.66},{"x":1.085,"y":0.73},{"x":1.095,"y":0.85},{"x":1.105,"y":0.61},{"x":1.115,"y":0.79},{"x":1.125,"y":0.7},{"x":1.135,"y":0.64},{"x":1.145,"y":0.82},{"x":1.155,"y":0.76},{"x":1.165,"y":0.52},{"x":1.175,"y":0.69},{"x":1.185,"y":0.87},{"x":1.195,"y":0.71},{"x":1.205,"y":0.63},{"x":1.215,"y":0.83},{"x":1.225,"y":0.74},{"x":1.235,"y":0.66},{"x":1.245,"y":0.88},{"x":1.255,"y":0.58},{"x":1.265,"y":0.78},{"x":1.275,"y":0.72},{"x":1.285,"y":0.65},{"x":1.295,"y":0.84},{"x":1.305,"y":0.69},{"x":1.315,"y":0.57},{"x":1.325,"y":0.8},{"x":1.335,"y":0.73},{"x":1.345,"y":0.62},{"x":1.355,"y":0.86},{"x":1.365,"y":0.75},{"x":1.375,"y":0.68},{"x":1.385,"y":0.55},{"x":1.395,"y":0.79},{"x":1.405,"y":0.71},{"x":1.415,"y":0.64},{"x":1.425,"y":0.83},{"x":1.435,"y":0.76},{"x":1.445,"y":0.6},{"x":1.455,"y":0.87},{"x":1.465,"y":0.7},{"x":1.475,"y":0.53},{"x":1.485,"y":0.81},{"x":1.495,"y":0.74},{"x":1.505,"y":0.67},{"x":1.515,"y":0.85},{"x":1.525,"y":0.59},{"x":1.535,"y":0.77},{"x":1.545,"y":0.72},{"x":1.555,"y":0.64},{"x":1.565,"y":0.8},{"x":1.575,"y":0.56},{"x":1.585,"y":0.83},{"x":1.595,"y":0.73},{"x":1.605,"y":0.65},{"x":1.615,"y":0.78},{"x":1.625,"y":0.7},{"x":1.635,"y":0.86},{"x":1.645,"y":0.61},{"x":1.655,"y":0.75},{"x":1.665,"y":0.68},{"x":1.675,"y":0.82},{"x":1.685,"y":0.57},{"x":1.695,"y":0.79},{"x":1.705,"y":0.71},{"x":1.715,"y":0.64},{"x":1.725,"y":0.87},{"x":1.735,"y":0.74},{"x":1.745,"y":0.59},{"x":1.755,"y":0.81},{"x":1.765,"y":0.69},{"x":1.775,"y":0.76},{"x":1.785,"y":0.62},{"x":1.795,"y":0.84},{"x":1.805,"y":0.73},{"x":1.815,"y":0.66},{"x":1.825,"y":0.8},{"x":1.835,"y":0.55},{"x":1.845,"y":0.77},{"x":1.855,"y":0.71},{"x":1.865,"y":0.83},{"x":1.875,"y":0.64},{"x":1.885,"y":0.75},{"x":1.895,"y":0.58},{"x":1.905,"y":0.82},{"x":1.915,"y":0.69},{"x":1.925,"y":0.76},{"x":1.935,"y":0.61},{"x":1.945,"y":0.85},{"x":1.955,"y":0.72},{"x":1.965,"y":0.66},{"x":1.975,"y":0.79},{"x":1.985,"y":0.56},{"x":1.995,"y":0.74},{"x":2.005,"y":0.82},{"x":2.015,"y":0.68},{"x":2.025,"y":0.6},{"x":2.035,"y":0.77},{"x":2.045,"y":0.71},{"x":2.055,"y":0.85},{"x":2.065,"y":0.63},{"x":2.075,"y":0.76},{"x":2.085,"y":0.54},{"x":2.095,"y":0.8},{"x":2.105,"y":0.73},{"x":2.115,"y":0.66},{"x":2.125,"y":0.83},{"x":2.135,"y":0.59},{"x":2.145,"y":0.77},{"x":2.155,"y":0.7},{"x":2.165,"y":0.62},{"x":2.175,"y":0.81},{"x":2.185,"y":0.74},{"x":2.195,"y":0.57},{"x":2.205,"y":0.78},{"x":2.215,"y":0.69},{"x":2.225,"y":0.64},{"x":2.235,"y":0.82},{"x":2.245,"y":0.75},{"x":2.255,"y":0.6},{"x":2.265,"y":0.71},{"x":2.275,"y":0.79},{"x":2.285,"y":0.66},{"x":2.295,"y":0.73},
{"x":1.008,"y":0.79},{"x":1.028,"y":0.55},{"x":1.048,"y":0.86},{"x":1.068,"y":0.62},{"x":1.088,"y":0.8},{"x":1.108,"y":0.7},{"x":1.128,"y":0.58},{"x":1.148,"y":0.73},{"x":1.168,"y":0.81},{"x":1.188,"y":0.6},{"x":1.208,"y":0.76},{"x":1.228,"y":0.51},{"x":1.248,"y":0.7},{"x":1.268,"y":0.82},{"x":1.288,"y":0.57},{"x":1.308,"y":0.79},{"x":1.328,"y":0.64},{"x":1.348,"y":0.75},{"x":1.368,"y":0.5},{"x":1.388,"y":0.86},{"x":1.408,"y":0.66},{"x":1.428,"y":0.73},{"x":1.448,"y":0.47},{"x":1.468,"y":0.79},{"x":1.488,"y":0.62},{"x":1.508,"y":0.75},{"x":1.528,"y":0.5},{"x":1.548,"y":0.82},{"x":1.568,"y":0.69},{"x":1.588,"y":0.61},{"x":1.608,"y":0.85},{"x":1.628,"y":0.54},{"x":1.648,"y":0.73},{"x":1.668,"y":0.8},{"x":1.688,"y":0.65},{"x":1.708,"y":0.52},{"x":1.728,"y":0.77},{"x":1.748,"y":0.68},{"x":1.768,"y":0.83},{"x":1.788,"y":0.5},{"x":1.808,"y":0.76},{"x":1.828,"y":0.62},{"x":1.848,"y":0.71},{"x":1.868,"y":0.54},{"x":1.888,"y":0.81},{"x":1.908,"y":0.65},{"x":1.928,"y":0.57},{"x":1.948,"y":0.78},{"x":1.968,"y":0.7},{"x":1.988,"y":0.62},{"x":2.008,"y":0.55},{"x":2.028,"y":0.84},{"x":2.048,"y":0.66},{"x":2.068,"y":0.58},{"x":2.088,"y":0.75},{"x":2.108,"y":0.62},{"x":2.128,"y":0.71},{"x":2.148,"y":0.53},{"x":2.168,"y":0.76},{"x":2.188,"y":0.64},{"x":2.208,"y":0.84},{"x":2.228,"y":0.53},{"x":2.248,"y":0.72},{"x":2.268,"y":0.58},{"x":2.288,"y":0.8}],
"f":[{"x":1.04,"y":0.59},{"x":1.11,"y":-0.01},{"x":1.2,"y":0.93},{"x":1.22,"y":0.62},{"x":1.25,"y":0.85},{"x":1.27,"y":0.78},{"x":1.3,"y":0.9},{"x":1.32,"y":0.57},{"x":1.35,"y":0.86},{"x":1.37,"y":0.74},{"x":1.4,"y":0.82},{"x":1.41,"y":0.54},{"x":1.43,"y":0.26},{"x":1.44,"y":0.68},{"x":1.45,"y":0.77},{"x":1.46,"y":0.88},{"x":1.47,"y":0.51},{"x":1.48,"y":0.71},{"x":1.49,"y":0.84},{"x":1.5,"y":0.6},{"x":1.51,"y":0.28},{"x":1.52,"y":0.93},{"x":1.52,"y":0.12},{"x":1.53,"y":0.75},{"x":1.54,"y":0.66},
{"x":1.551,"y":0.82},{"x":1.556,"y":0.58},{"x":1.561,"y":0.72},{"x":1.567,"y":0.4},{"x":1.572,"y":0.76},{"x":1.576,"y":0.86},{"x":1.583,"y":0.63},{"x":1.588,"y":0.21},{"x":1.591,"y":0.69},{"x":1.597,"y":0.8},{"x":1.602,"y":0.52},{"x":1.606,"y":0.88},{"x":1.612,"y":0.74},{"x":1.617,"y":0.45},{"x":1.621,"y":0.61},{"x":1.627,"y":0.84},{"x":1.631,"y":0.66},{"x":1.636,"y":0.9},{"x":1.642,"y":-0.05},{"x":1.647,"y":0.78},{"x":1.652,"y":0.57},{"x":1.656,"y":0.71},{"x":1.661,"y":0.83},{"x":1.668,"y":0.35},{"x":1.671,"y":0.87},{"x":1.677,"y":0.64},{"x":1.682,"y":0.74},{"x":1.686,"y":0.48},{"x":1.692,"y":0.79},{"x":1.696,"y":0.59},{"x":1.703,"y":0.18},{"x":1.707,"y":0.7},{"x":1.711,"y":0.85},{"x":1.716,"y":0.67},{"x":1.722,"y":0.42},{"x":1.727,"y":0.77},{"x":1.732,"y":0.62},{"x":1.737,"y":0.88},{"x":1.741,"y":0.73},{"x":1.748,"y":0.3},{"x":1.751,"y":0.81},{"x":1.757,"y":0.54},{"x":1.762,"y":0.69},{"x":1.766,"y":0.91},{"x":1.772,"y":0.75},{"x":1.776,"y":0.46},{"x":1.781,"y":0.86},{"x":1.787,"y":0.65},{"x":1.791,"y":0.58},{"x":1.797,"y":0.8},{"x":1.802,"y":0.71},{"x":1.806,"y":0.12},{"x":1.812,"y":0.89},{"x":1.816,"y":0.63},{"x":1.822,"y":0.76},{"x":1.827,"y":0.37},{"x":1.831,"y":0.7},{"x":1.837,"y":0.84},{"x":1.841,"y":0.52},{"x":1.846,"y":0.93},{"x":1.852,"y":0.66},{"x":1.857,"y":0.78},{"x":1.862,"y":0.43},{"x":1.867,"y":0.88},{"x":1.871,"y":0.73},{"x":1.876,"y":0.6},{"x":1.882,"y":0.85},{"x":1.888,"y":0.24},{"x":1.892,"y":0.81},{"x":1.896,"y":0.68},{"x":1.901,"y":0.49},{"x":1.907,"y":-0.15},{"x":1.911,"y":0.76},{"x":1.917,"y":0.9},{"x":1.922,"y":0.57},{"x":1.926,"y":0.71},{"x":1.932,"y":0.64},{"x":1.937,"y":0.83},{"x":1.942,"y":0.38},{"x":1.946,"y":0.74},{"x":1.951,"y":0.87},{"x":1.956,"y":0.7},{"x":1.962,"y":0.55},{"x":1.967,"y":-0.17},{"x":1.972,"y":0.79},{"x":1.977,"y":0.61},{"x":1.981,"y":0.93},{"x":1.987,"y":0.45},{"x":1.991,"y":0.72},{"x":1.996,"y":0.84},{"x":2.002,"y":0.5},{"x":2.007,"y":0.66},
{"x":2.012,"y":0.88},{"x":2.016,"y":0.59},{"x":2.021,"y":0.76},{"x":2.027,"y":0.33},{"x":2.031,"y":0.69},{"x":2.036,"y":0.81},{"x":2.042,"y":0.62},{"x":2.047,"y":0.86},{"x":2.052,"y":0.74},{"x":2.057,"y":0.53},{"x":2.061,"y":0.91},{"x":2.066,"y":0.27},{"x":2.071,"y":0.65},{"x":2.077,"y":0.78},{"x":2.082,"y":0.84},{"x":2.087,"y":0.43},{"x":2.092,"y":0.87},{"x":2.096,"y":0.71},{"x":2.101,"y":0.58},{"x":2.106,"y":0.76},{"x":2.111,"y":0.62},{"x":2.117,"y":0.8},{"x":2.122,"y":0.92},{"x":2.127,"y":0.19},{"x":2.132,"y":0.75},{"x":2.136,"y":0.68},{"x":2.141,"y":0.46},{"x":2.147,"y":0.85},{"x":2.151,"y":0.82},{"x":2.157,"y":0.57},{"x":2.162,"y":0.73},{"x":2.166,"y":0.95},{"x":2.172,"y":0.66},{"x":2.176,"y":0.88},{"x":2.181,"y":0.6},{"x":2.187,"y":0.36},{"x":2.191,"y":0.79},{"x":2.197,"y":0.52},{"x":2.202,"y":0.71},{"x":2.206,"y":0.84},{"x":2.212,"y":0.86},{"x":2.217,"y":0.64},{"x":2.221,"y":0.41},{"x":2.227,"y":0.77},{"x":2.231,"y":0.7},{"x":2.236,"y":0.92},{"x":2.242,"y":0.55},{"x":2.247,"y":0.27},{"x":2.252,"y":0.74},{"x":2.256,"y":0.81},{"x":2.261,"y":0.63},{"x":2.267,"y":0.48},{"x":2.271,"y":0.89},{"x":2.277,"y":0.67},{"x":2.282,"y":0.58},{"x":2.286,"y":0.78},{"x":2.292,"y":0.72},{"x":2.296,"y":0.84},{"x":2.301,"y":0.44},{"x":2.307,"y":0.93},{"x":2.311,"y":0.61},{"x":2.317,"y":0.76},{"x":2.322,"y":0.87},{"x":2.326,"y":0.23},{"x":2.332,"y":0.8},{"x":2.337,"y":0.56},{"x":2.341,"y":0.69},{"x":2.347,"y":0.04},{"x":2.351,"y":0.74},{"x":2.356,"y":0.89},{"x":2.362,"y":0.63},{"x":2.367,"y":0.4},{"x":2.372,"y":0.83},{"x":2.376,"y":0.66},{"x":2.381,"y":0.51},{"x":2.387,"y":0.75},{"x":2.391,"y":0.7},{"x":2.397,"y":0.86},{"x":2.402,"y":0.59},{"x":2.406,"y":0.3},{"x":2.412,"y":0.78},{"x":2.416,"y":0.62},{"x":2.422,"y":0.91},{"x":2.427,"y":0.46},{"x":2.431,"y":0.67},{"x":2.437,"y":0.82},{"x":2.441,"y":0.55},{"x":2.446,"y":0.73},{"x":2.452,"y":0.88},{"x":2.457,"y":0.71},{"x":2.461,"y":0.36},{"x":2.467,"y":0.64},{"x":2.471,"y":0.76},{"x":2.476,"y":0.58},{"x":2.482,"y":0.84},{"x":2.487,"y":0.2},{"x":2.492,"y":0.69},{"x":2.496,"y":0.79},{"x":2.501,"y":0.49},{"x":2.507,"y":0.9},
{"x":2.511,"y":0.85},{"x":2.517,"y":0.63},{"x":2.522,"y":0.74},{"x":2.526,"y":0.4},{"x":2.532,"y":0.72},{"x":2.536,"y":0.92},{"x":2.541,"y":0.57},{"x":2.547,"y":0.81},{"x":2.551,"y":0.66},{"x":2.557,"y":0.87},{"x":2.562,"y":0.45},{"x":2.566,"y":0.77},{"x":2.572,"y":0.8},{"x":2.576,"y":0.61},{"x":2.581,"y":0.7},{"x":2.587,"y":0.32},{"x":2.591,"y":0.74},{"x":2.597,"y":0.89},{"x":2.602,"y":0.53},{"x":2.606,"y":0.64},{"x":2.612,"y":0.83},{"x":2.617,"y":0.68},{"x":2.621,"y":0.42},{"x":2.627,"y":0.76},{"x":2.631,"y":0.6},{"x":2.636,"y":0.79},{"x":2.642,"y":0.86},{"x":2.647,"y":0.14},{"x":2.652,"y":0.72},{"x":2.656,"y":0.55},{"x":2.661,"y":0.9},{"x":2.667,"y":0.67},{"x":2.671,"y":0.84},{"x":2.677,"y":0.63},{"x":2.682,"y":0.77},{"x":2.686,"y":0.48},{"x":2.692,"y":0.7},{"x":2.696,"y":0.88},{"x":2.701,"y":0.58},{"x":2.707,"y":-0.07},{"x":2.711,"y":0.76},{"x":2.717,"y":0.66},{"x":2.722,"y":0.82},{"x":2.726,"y":0.38},{"x":2.732,"y":0.86},{"x":2.736,"y":0.61},{"x":2.741,"y":0.72},{"x":2.747,"y":0.52},{"x":2.751,"y":0.69},{"x":2.757,"y":0.9},{"x":2.762,"y":0.79},{"x":2.766,"y":0.27},{"x":2.772,"y":0.63},{"x":2.776,"y":0.84},{"x":2.781,"y":0.74},{"x":2.787,"y":0.56},{"x":2.791,"y":0.88},{"x":2.797,"y":0.7},{"x":2.802,"y":0.47},{"x":2.806,"y":0.8},{"x":2.812,"y":0.76},{"x":2.817,"y":0.59},{"x":2.821,"y":0.91},{"x":2.827,"y":0.11},{"x":2.831,"y":0.67},{"x":2.836,"y":0.82},{"x":2.842,"y":0.54},{"x":2.847,"y":0.73},{"x":2.852,"y":0.86},{"x":2.856,"y":0.71},{"x":2.861,"y":0.63},{"x":2.867,"y":0.4},{"x":2.871,"y":0.79},{"x":2.877,"y":0.57},{"x":2.882,"y":0.84},{"x":2.886,"y":0.68},{"x":2.892,"y":0.74},{"x":2.896,"y":0.88},{"x":2.901,"y":0.5},{"x":2.907,"y":0.62},{"x":2.911,"y":0.83},{"x":2.917,"y":0.66},{"x":2.922,"y":0.77},{"x":2.926,"y":0.45},{"x":2.932,"y":0.7},{"x":2.936,"y":0.56},{"x":2.941,"y":0.85},{"x":2.947,"y":0.33},{"x":2.951,"y":0.8},{"x":2.957,"y":0.64},{"x":2.962,"y":0.74},{"x":2.966,"y":0.59},{"x":2.972,"y":0.86},{"x":2.976,"y":0.72},{"x":2.981,"y":0.42},{"x":2.987,"y":0.67},{"x":2.991,"y":0.77},{"x":2.997,"y":0.6},{"x":3.002,"y":0.81},{"x":3.006,"y":0.53},
{"x":3.01,"y":0.7},{"x":3.03,"y":0.48},{"x":3.04,"y":0.85},{"x":3.06,"y":0.1},{"x":3.07,"y":0.74},{"x":3.09,"y":0.63},{"x":3.1,"y":0.43},{"x":3.12,"y":0.8},{"x":3.14,"y":0.25},{"x":3.15,"y":0.62},{"x":3.17,"y":0.41},{"x":3.19,"y":0.72},{"x":3.21,"y":0.07},{"x":3.23,"y":0.87},{"x":3.25,"y":0.52},{"x":3.28,"y":0.71},
{"x":1.603,"y":0.73},{"x":1.614,"y":0.66},{"x":1.625,"y":0.81},{"x":1.636,"y":0.57},{"x":1.647,"y":0.7},{"x":1.658,"y":0.77},{"x":1.669,"y":0.62},{"x":1.68,"y":0.84},{"x":1.691,"y":0.68},{"x":1.702,"y":0.75},{"x":1.713,"y":0.55},{"x":1.724,"y":0.8},{"x":1.735,"y":0.69},{"x":1.746,"y":0.63},{"x":1.757,"y":0.86},{"x":1.768,"y":0.72},{"x":1.779,"y":0.59},{"x":1.79,"y":0.78},{"x":1.801,"y":0.66},{"x":1.812,"y":0.83},{"x":1.823,"y":0.71},{"x":1.834,"y":0.56},{"x":1.845,"y":0.76},{"x":1.856,"y":0.64},{"x":1.867,"y":0.82},{"x":1.878,"y":0.69},{"x":1.889,"y":0.74},{"x":1.9,"y":0.6},{"x":1.911,"y":0.85},{"x":1.922,"y":0.67},{"x":1.933,"y":0.78},{"x":1.944,"y":0.72},{"x":1.955,"y":0.62},{"x":1.966,"y":0.83},{"x":1.977,"y":0.7},{"x":1.988,"y":0.56},{"x":1.999,"y":0.79},{"x":2.01,"y":0.73},{"x":2.021,"y":0.65},{"x":2.032,"y":0.87},{"x":2.043,"y":0.69},{"x":2.054,"y":0.77},{"x":2.065,"y":0.6},{"x":2.076,"y":0.82},{"x":2.087,"y":0.71},{"x":2.098,"y":0.66},{"x":2.109,"y":0.85},{"x":2.12,"y":0.74},{"x":2.131,"y":0.58},{"x":2.142,"y":0.79},{"x":2.153,"y":0.68},{"x":2.164,"y":0.76},{"x":2.175,"y":0.63},{"x":2.186,"y":0.83},{"x":2.197,"y":0.72},{"x":2.208,"y":0.66},{"x":2.219,"y":0.8},{"x":2.23,"y":0.57},{"x":2.241,"y":0.75},{"x":2.252,"y":0.69},{"x":2.263,"y":0.84},{"x":2.274,"y":0.62},{"x":2.285,"y":0.77},{"x":2.296,"y":0.71},{"x":2.307,"y":0.65},{"x":2.318,"y":0.82},{"x":2.329,"y":0.73},{"x":2.34,"y":0.59},{"x":2.351,"y":0.8},{"x":2.362,"y":0.68},{"x":2.373,"y":0.76},{"x":2.384,"y":0.63},{"x":2.395,"y":0.86},{"x":2.406,"y":0.72},{"x":2.417,"y":0.66},{"x":2.428,"y":0.79},{"x":2.439,"y":0.57},{"x":2.45,"y":0.75},{"x":2.461,"y":0.69},{"x":2.472,"y":0.83},{"x":2.483,"y":0.64},{"x":2.494,"y":0.77},{"x":2.505,"y":0.71},{"x":2.516,"y":0.6},{"x":2.527,"y":0.84},{"x":2.538,"y":0.68},{"x":2.549,"y":0.74},{"x":2.56,"y":0.62},{"x":2.571,"y":0.81},{"x":2.582,"y":0.7},{"x":2.593,"y":0.66},{"x":2.604,"y":0.78},{"x":2.615,"y":0.58},{"x":2.626,"y":0.73},{"x":2.637,"y":0.81},{"x":2.648,"y":0.64},{"x":2.659,"y":0.76},{"x":2.67,"y":0.69},{"x":2.681,"y":0.85},{"x":2.692,"y":0.61},{"x":2.703,"y":0.74},{"x":2.714,"y":0.79},{"x":2.725,"y":0.66},{"x":2.736,"y":0.7},{"x":2.747,"y":0.83},{"x":2.758,"y":0.59},{"x":2.769,"y":0.75},{"x":2.78,"y":0.68},{"x":2.791,"y":0.62},{"x":2.802,"y":0.77},{"x":2.813,"y":0.71},{"x":2.824,"y":0.64},{"x":2.835,"y":0.8},{"x":2.846,"y":0.73},{"x":2.857,"y":0.58},{"x":2.868,"y":0.75},{"x":2.879,"y":0.67},{"x":2.89,"y":0.82},{"x":2.901,"y":0.7},{"x":2.912,"y":0.61},{"x":2.923,"y":0.76},
{"x":1.652,"y":0.49},{"x":1.669,"y":0.86},{"x":1.686,"y":0.52},{"x":1.703,"y":0.61},{"x":1.72,"y":0.45},{"x":1.737,"y":0.79},{"x":1.754,"y":0.5},{"x":1.771,"y":0.68},{"x":1.788,"y":0.88},{"x":1.805,"y":0.55},{"x":1.822,"y":0.47},{"x":1.839,"y":0.74},{"x":1.856,"y":0.9},{"x":1.873,"y":0.51},{"x":1.89,"y":0.61},{"x":1.907,"y":0.8},{"x":1.924,"y":0.48},{"x":1.941,"y":0.66},{"x":1.958,"y":0.88},{"x":1.975,"y":0.53},{"x":1.992,"y":0.62},{"x":2.009,"y":0.46},{"x":2.026,"y":0.74},{"x":2.043,"y":0.89},{"x":2.06,"y":0.55},{"x":2.077,"y":0.68},{"x":2.094,"y":0.5},{"x":2.111,"y":0.77},{"x":2.128,"y":0.88},{"x":2.145,"y":0.6},{"x":2.162,"y":0.47},{"x":2.179,"y":0.73},{"x":2.196,"y":0.62},{"x":2.213,"y":0.9},{"x":2.23,"y":0.5},{"x":2.247,"y":0.67},{"x":2.264,"y":0.55},{"x":2.281,"y":0.86},{"x":2.298,"y":0.63},{"x":2.315,"y":0.48},{"x":2.332,"y":0.76},{"x":2.349,"y":0.57},{"x":2.366,"y":0.88},{"x":2.383,"y":0.52},{"x":2.4,"y":0.69},{"x":2.417,"y":0.6},{"x":2.434,"y":0.85},{"x":2.451,"y":0.49},{"x":2.468,"y":0.72},{"x":2.485,"y":0.63},{"x":2.502,"y":0.87},{"x":2.519,"y":0.54},{"x":2.536,"y":0.66},{"x":2.553,"y":0.9},{"x":2.57,"y":0.47},{"x":2.587,"y":0.73},{"x":2.604,"y":0.56},{"x":2.621,"y":0.85},{"x":2.638,"y":0.61},{"x":2.655,"y":0.5},{"x":2.672,"y":0.78},{"x":2.689,"y":0.64},{"x":2.706,"y":0.88},{"x":2.723,"y":0.53},{"x":2.74,"y":0.69}]
},
"columns":2,
"spacing":{"row":71.5,"column":76.5},
"bounds":"flush",
"concat":[
{"width":296,"height":163,
"title":{"text":"(a)","dx":-59,"offset":10},
"layer":[
{"data":{"name":"a"},"mark":{"type":"point","shape":"square","filled":true,"size":4,"color":"#000","opacity":1,"clip":true},
"encoding":{"x":{"field":"x","type":"quantitative","scale":{"domain":[0.56,12.44],"nice":false,"zero":false},"axis":{"values":[2,4,6,8,10,12],"format":"d","title":"geodesic distance [--]"}},
"y":{"field":"y","type":"quantitative","scale":{"domain":[-1.08,1.1],"nice":false,"zero":false},"axis":{"values":[-1,-0.5,0,0.5,1],"labelExpr":"datum.value == 1 ? '1.0' : datum.value == 0.5 ? '0.5' : datum.value == 0 ? '0.0' : datum.value == -1 ? '-1.0' : ''","title":"correlation coefficient [--]"}}}},
{"data":{"values":[{"x":0.56,"y":0.737},{"x":12.44,"y":0.527}]},"mark":{"type":"line","color":"#ee2222","strokeWidth":1.6,"clip":true},"encoding":{"x":{"field":"x","type":"quantitative"},"y":{"field":"y","type":"quantitative"}}},
{"data":{"values":[{"x":6.07,"y":-0.68,"label":"1 < Euclid dist. ≤ 3"}]},"mark":{"type":"text","fontSize":20,"color":"#E8892B","baseline":"alphabetic","align":"center","font":"Liberation Sans"},"encoding":{"x":{"field":"x","type":"quantitative"},"y":{"field":"y","type":"quantitative"},"text":{"field":"label"}}}
]},
{"width":296,"height":163,
"title":{"text":"(b)","dx":-62,"offset":10},
"layer":[
{"data":{"name":"b"},"mark":{"type":"point","shape":"square","filled":true,"size":4,"color":"#000","opacity":1,"clip":true},
"encoding":{"x":{"field":"x","type":"quantitative","scale":{"domain":[1.52,14.48],"nice":false,"zero":false},"axis":{"values":[2,4,6,8,10,12,14],"format":"d","title":"geodesic distance [--]"}},
"y":{"field":"y","type":"quantitative","scale":{"domain":[-1.08,1.1],"nice":false,"zero":false},"axis":{"values":[-1,-0.5,0,0.5,1],"labelExpr":"datum.value == 1 ? '1.0' : datum.value == 0.5 ? '0.5' : datum.value == 0 ? '0.0' : datum.value == -1 ? '-1.0' : ''","title":"correlation coefficient [--]"}}}},
{"data":{"values":[{"x":1.52,"y":0.733},{"x":14.48,"y":0.47}]},"mark":{"type":"line","color":"#ee2222","strokeWidth":1.6,"clip":true},"encoding":{"x":{"field":"x","type":"quantitative"},"y":{"field":"y","type":"quantitative"}}},
{"data":{"values":[{"x":7.5,"y":-0.676,"label":"2 < Euclid dist. ≤ 4"}]},"mark":{"type":"text","fontSize":20,"color":"#E8892B","baseline":"alphabetic","align":"center","font":"Liberation Sans"},"encoding":{"x":{"field":"x","type":"quantitative"},"y":{"field":"y","type":"quantitative"},"text":{"field":"label"}}}
]},
{"width":296,"height":163,
"title":{"text":"(c)","dx":-59,"offset":15},
"layer":[
{"data":{"name":"c"},"mark":{"type":"point","shape":"square","filled":true,"size":4,"color":"#000","opacity":1,"clip":true},
"encoding":{"x":{"field":"x","type":"quantitative","scale":{"domain":[3.42,19.55],"nice":false,"zero":false},"axis":{"values":[5,10,15],"format":"d","title":"geodesic distance [--]"}},
"y":{"field":"y","type":"quantitative","scale":{"domain":[-1.08,1.1],"nice":false,"zero":false},"axis":{"values":[-1,-0.5,0,0.5,1],"labelExpr":"datum.value == 1 ? '1.0' : datum.value == 0.5 ? '0.5' : datum.value == 0 ? '0.0' : datum.value == -1 ? '-1.0' : ''","title":"correlation coefficient [--]"}}}},
{"data":{"values":[{"x":3.42,"y":0.696},{"x":19.55,"y":0.406}]},"mark":{"type":"line","color":"#ee2222","strokeWidth":1.6,"clip":true},"encoding":{"x":{"field":"x","type":"quantitative"},"y":{"field":"y","type":"quantitative"}}},
{"data":{"values":[{"x":10.93,"y":-0.7,"label":"3 < Euclid dist. ≤ 5"}]},"mark":{"type":"text","fontSize":20,"color":"#E8892B","baseline":"alphabetic","align":"center","font":"Liberation Sans"},"encoding":{"x":{"field":"x","type":"quantitative"},"y":{"field":"y","type":"quantitative"},"text":{"field":"label"}}}
]},
{"width":296,"height":163,
"title":{"text":"(d)","dx":-62,"offset":16},
"layer":[
{"data":{"name":"d"},"mark":{"type":"point","shape":"square","filled":true,"size":3,"color":"#000","opacity":1,"clip":true},
"encoding":{"x":{"field":"x","type":"quantitative","scale":{"domain":[0.378,1.025],"nice":false,"zero":false},"axis":{"values":[0.4,0.5,0.6,0.7,0.8,0.9,1.0],"format":".1f","title":"Euclidean distance [--]"}},
"y":{"field":"y","type":"quantitative","scale":{"domain":[-1.08,1.1],"nice":false,"zero":false},"axis":{"values":[-1,-0.5,0,0.5,1],"labelExpr":"datum.value == 1 ? '1.0' : datum.value == 0.5 ? '0.5' : datum.value == 0 ? '0.0' : datum.value == -1 ? '-1.0' : ''","title":"correlation coefficient [--]"}}}},
{"data":{"values":[{"x":0.378,"y":0.87},{"x":1.025,"y":0.705}]},"mark":{"type":"line","color":"#ee2222","strokeWidth":1.6,"clip":true},"encoding":{"x":{"field":"x","type":"quantitative"},"y":{"field":"y","type":"quantitative"}}},
{"data":{"values":[{"x":0.693,"y":-0.68,"label":"geod. dist. = 1"}]},"mark":{"type":"text","fontSize":20,"color":"#E8892B","baseline":"alphabetic","align":"center","font":"Liberation Sans"},"encoding":{"x":{"field":"x","type":"quantitative"},"y":{"field":"y","type":"quantitative"},"text":{"field":"label"}}}
]},
{"width":296,"height":163,
"title":{"text":"(e)","dx":-59,"offset":15},
"layer":[
{"data":{"name":"e"},"mark":{"type":"point","shape":"square","filled":true,"size":2.6,"color":"#000","opacity":1,"clip":true},
"encoding":{"x":{"field":"x","type":"quantitative","scale":{"domain":[0.925,2.73],"nice":false,"zero":false},"axis":{"values":[1.0,1.5,2.0,2.5],"format":".1f","title":"Euclidean distance [--]"}},
"y":{"field":"y","type":"quantitative","scale":{"domain":[-1.08,1.1],"nice":false,"zero":false},"axis":{"values":[-1,-0.5,0,0.5,1],"labelExpr":"datum.value == 1 ? '1.0' : datum.value == 0.5 ? '0.5' : datum.value == 0 ? '0.0' : datum.value == -1 ? '-1.0' : ''","title":"correlation coefficient [--]"}}}},
{"data":{"values":[{"x":0.925,"y":0.71},{"x":2.73,"y":0.657}]},"mark":{"type":"line","color":"#ee2222","strokeWidth":1.6,"clip":true},"encoding":{"x":{"field":"x","type":"quantitative"},"y":{"field":"y","type":"quantitative"}}},
{"data":{"values":[{"x":1.813,"y":-0.689,"label":"geod. dist = 2 or 3"}]},"mark":{"type":"text","fontSize":20,"color":"#2E9E2E","baseline":"alphabetic","align":"center","font":"Liberation Sans"},"encoding":{"x":{"field":"x","type":"quantitative"},"y":{"field":"y","type":"quantitative"},"text":{"field":"label"}}}
]},
{"width":296,"height":163,
"title":{"text":"(f)","dx":-62,"offset":15},
"layer":[
{"data":{"name":"f"},"mark":{"type":"point","shape":"square","filled":true,"size":2.6,"color":"#000","opacity":1,"clip":true},
"encoding":{"x":{"field":"x","type":"quantitative","scale":{"domain":[0.973,3.375],"nice":false,"zero":false},"axis":{"values":[1.0,1.5,2.0,2.5,3.0],"format":".1f","title":"Euclidean distance [--]"}},
"y":{"field":"y","type":"quantitative","scale":{"domain":[-1.08,1.1],"nice":false,"zero":false},"axis":{"values":[-1,-0.5,0,0.5,1],"labelExpr":"datum.value == 1 ? '1.0' : datum.value == 0.5 ? '0.5' : datum.value == 0 ? '0.0' : datum.value == -1 ? '-1.0' : ''","title":"correlation coefficient [--]"}}}},
{"data":{"values":[{"x":0.973,"y":0.68},{"x":3.375,"y":0.68}]},"mark":{"type":"line","color":"#ee2222","strokeWidth":1.6,"clip":true},"encoding":{"x":{"field":"x","type":"quantitative"},"y":{"field":"y","type":"quantitative"}}},
{"data":{"values":[{"x":2.07,"y":-0.685,"label":"geod. dist = 3 or 4"}]},"mark":{"type":"text","fontSize":20,"color":"#2E9E2E","baseline":"alphabetic","align":"center","font":"Liberation Sans"},"encoding":{"x":{"field":"x","type":"quantitative"},"y":{"field":"y","type":"quantitative"},"text":{"field":"label"}}}
]}
]
}
